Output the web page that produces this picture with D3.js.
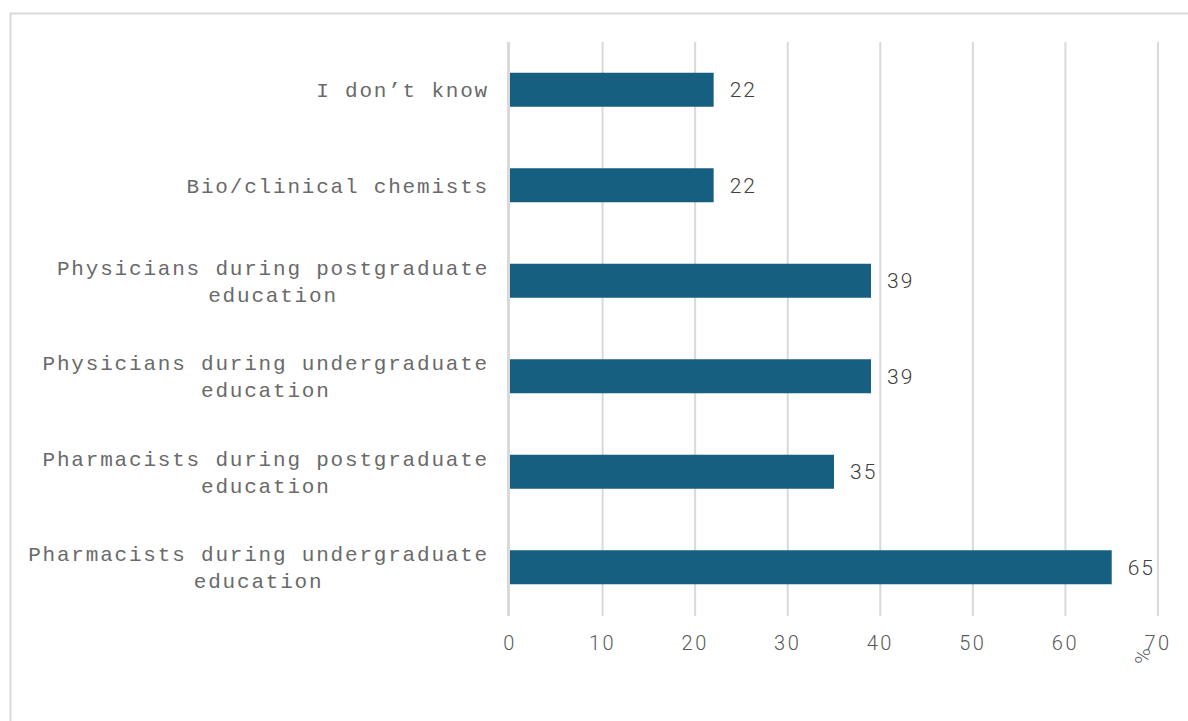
<!DOCTYPE html>
<html>
<head>
<meta charset="utf-8">
<script src="https://cdn.jsdelivr.net/npm/d3@7"></script>
<style>
  html, body { margin: 0; padding: 0; background: #fff; }
  svg { display: block; }
</style>
</head>
<body>
<svg id="chart" width="1188" height="721"></svg>
<script>
// Survey categories (top to bottom) and shares in percent
const categories = [
  "I don\u2019t know",
  "Bio/clinical chemists",
  "Physicians during postgraduate|education",
  "Physicians during undergraduate|education",
  "Pharmacists during postgraduate|education",
  "Pharmacists during undergraduate|education"
];
const values = [22, 22, 39, 39, 35, 65];
const xTicks = [0, 10, 20, 30, 40, 50, 60, 70];
const axisUnit = "%";

const svg = d3.select("#chart");
const W = 1188, H = 721;

// outer frame
svg.append("rect")
  .attr("x", 10.5).attr("y", 13.5)
  .attr("width", W).attr("height", H)
  .attr("fill", "none").attr("stroke", "#d9d9d9").attr("stroke-width", 2);

const x = d3.scaleLinear().domain([0, 70]).range([510, 1158]);
const y = d3.scaleBand().domain(categories).range([42, 615]).paddingInner(0.644).paddingOuter(0.322);

// vertical gridlines
svg.append("g").selectAll("line").data(xTicks.slice(1)).join("line")
  .attr("x1", d => x(d)).attr("x2", d => x(d))
  .attr("y1", 42).attr("y2", 616)
  .attr("stroke", "#d9d9d9").attr("stroke-width", 2);

// bars
svg.append("g").selectAll("rect").data(categories).join("rect")
  .attr("x", x(0))
  .attr("y", d => y(d))
  .attr("width", (d, i) => x(values[i]) - x(0))
  .attr("height", y.bandwidth())
  .attr("fill", "#175f80");

// vertical axis line
svg.append("line")
  .attr("x1", 508.5).attr("x2", 508.5)
  .attr("y1", 42).attr("y2", 616)
  .attr("stroke", "#d9d9d9").attr("stroke-width", 3);

// value labels
svg.append("g").selectAll("text").data(categories).join("text")
  .attr("x", (d, i) => x(values[i]) + 16)
  .attr("y", d => y(d) + y.bandwidth() / 2)
  .attr("dy", "0.36em")
  .attr("font-family", "Roboto, sans-serif")
  .attr("font-weight", 300)
  .attr("font-size", 21)
  .attr("letter-spacing", 2)
  .attr("fill", "#404040")
  .text((d, i) => values[i]);

// category labels (right aligned block, lines centred)
const catG = svg.append("g");
categories.forEach(c => {
  const lines = c.split("|");
  const cy = y(c) + y.bandwidth() / 2;
  const lh = 27;
  const t = catG.append("text")
    .attr("font-family", "'Liberation Mono', 'Courier New', monospace")
    .attr("font-size", 21)
    .attr("letter-spacing", 1.8)
    .attr("fill", "#6a6a6a")
    .attr("text-anchor", "middle");
  const maxLen = d3.max(lines, l => l.length);
  lines.forEach((l, i) => {
    t.append("tspan")
      .attr("x", 489 - (maxLen * 14.4) / 2)
      .attr("y", cy + (i - (lines.length - 1) / 2) * lh)
      .attr("dy", "0.35em")
      .text(l);
  });
});

// x tick labels
svg.append("g").selectAll("text").data(xTicks).join("text")
  .attr("x", d => x(d))
  .attr("y", 643)
  .attr("dy", "0.35em")
  .attr("text-anchor", "middle")
  .attr("font-family", "Roboto, sans-serif")
  .attr("font-weight", 300)
  .attr("font-size", 20)
  .attr("letter-spacing", 2.5)
  .attr("fill", "#595959")
  .text(d => d);

// axis unit, rotated
svg.append("text")
  .attr("transform", "translate(1143,656) rotate(-90)")
  .attr("text-anchor", "middle")
  .attr("dy", "0.35em")
  .attr("font-family", "Roboto, sans-serif")
  .attr("font-weight", 300)
  .attr("font-size", 21)
  .attr("fill", "#595959")
  .text(axisUnit);
</script>
</body>
</html>
